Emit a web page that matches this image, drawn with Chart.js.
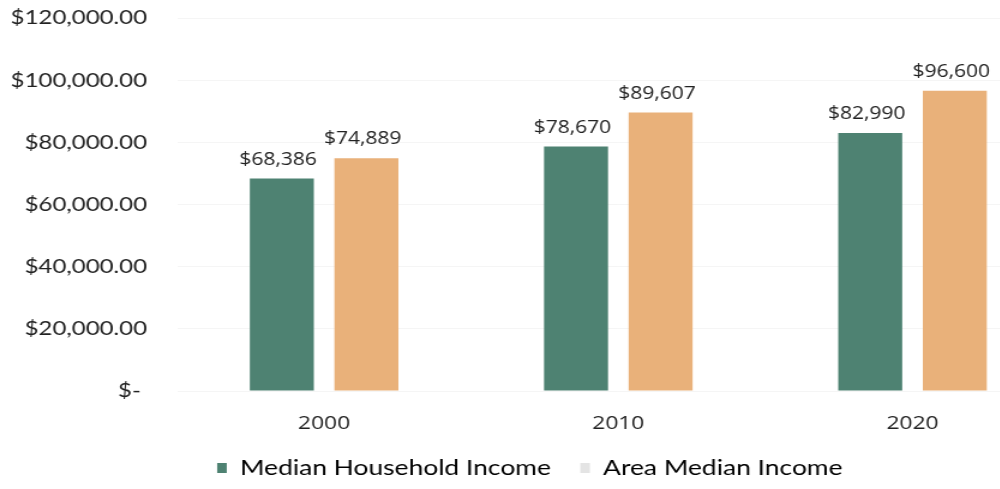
<!DOCTYPE html>
<html>
<head>
<meta charset="utf-8">
<style>
  html, body { margin: 0; padding: 0; background: #fff; overflow: hidden; }
  #frame { width: 1000px; height: 489px; overflow: hidden; position: relative; }
  /* the chart is drawn narrow and widened horizontally, giving its wide lettering */
  #stretch { position: absolute; left: 0; top: 0; transform: scaleX(1.2); transform-origin: 0 0; }
  canvas { display: block; }
</style>
<script src="https://cdn.jsdelivr.net/npm/chart.js@4"></script>
</head>
<body>
<div id="frame"><div id="stretch"><canvas id="c" width="884" height="489" style="width:884px;height:489px"></canvas></div></div>
<script>
// Census years on the category axis
const years = ['2000', '2010', '2020'];
// Median household income by year (USD)
const medianHousehold = [68386, 78670, 82990];
// Area median income by year (USD)
const areaMedian = [74889, 89607, 96600];
// Value axis ticks
const yTicks = [0, 20000, 40000, 60000, 80000, 100000, 120000];
// Legend entries
const legendNames = ['Median Household Income', 'Area Median Income'];

const GREEN = '#4e8272';
const ORANGE = '#e9b17a';
const LEGEND_SWATCHES = [GREEN, '#e4e4e4'];

// Accounting-style currency: zero shows as a dash
function money(v) {
  if (v === 0) return '$- ';
  return '$' + v.toLocaleString('en-US', { minimumFractionDigits: 2, maximumFractionDigits: 2 });
}

// Writes each bar's value above it
const valueLabels = {
  id: 'valueLabels',
  afterDatasetsDraw(chart) {
    const ctx = chart.ctx;
    ctx.save();
    ctx.font = '17.5px "Open Sans", sans-serif';
    ctx.fillStyle = '#222';
    ctx.textAlign = 'center';
    ctx.textBaseline = 'bottom';
    chart.data.datasets.forEach((ds, i) => {
      chart.getDatasetMeta(i).data.forEach((bar, j) => {
        const v = ds.data[j];
        ctx.fillText('$' + v.toLocaleString('en-US'), bar.x - 3, bar.y - 10);
      });
    });
    ctx.restore();
  }
};

new Chart(document.getElementById('c'), {
  type: 'bar',
  data: {
    labels: years,
    datasets: [
      { label: legendNames[0], data: medianHousehold, backgroundColor: GREEN,
        categoryPercentage: 0.575, barPercentage: 0.757 },
      { label: legendNames[1], data: areaMedian, backgroundColor: ORANGE,
        categoryPercentage: 0.575, barPercentage: 0.757 }
    ]
  },
  options: {
    responsive: false,
    maintainAspectRatio: false,
    animation: false,
    devicePixelRatio: 1,
    layout: { padding: { top: 18, left: 0, right: 1, bottom: 0 } },
    plugins: {
      tooltip: { enabled: false },
      legend: {
        position: 'bottom',
        labels: {
          font: { family: 'Lato', size: 22, lineHeight: 1.1 },
          color: '#222',
          boxWidth: 8,
          boxHeight: 10,
          padding: 8,
          generateLabels(chart) {
            return chart.data.datasets.map((ds, i) => ({
              // extra trailing space keeps the two entries well apart
              text: i === 0 ? ds.label + '\u2003' : ds.label,
              fillStyle: LEGEND_SWATCHES[i],
              strokeStyle: LEGEND_SWATCHES[i],
              lineWidth: 0,
              datasetIndex: i,
              hidden: false
            }));
          }
        }
      }
    },
    scales: {
      x: {
        afterFit(axis) { axis.height = 58; },
        grid: { display: false },
        border: { display: false },
        ticks: { font: { family: 'Open Sans', size: 19 }, color: '#222', padding: 13 }
      },
      y: {
        min: 0,
        max: 120000,
        afterBuildTicks(axis) { axis.ticks = yTicks.map(v => ({ value: v })); },
        afterFit(axis) { axis.width = 147.5; axis.paddingTop = 0; axis.paddingBottom = 0; },
        grid: { color: 'rgba(0,0,0,0.04)', drawTicks: false },
        border: { display: false },
        ticks: {
          font: { family: 'Lato', size: 20 },
          color: '#222',
          padding: 25,
          callback: v => money(v)
        }
      }
    }
  },
  plugins: [valueLabels]
});
</script>
</body>
</html>
